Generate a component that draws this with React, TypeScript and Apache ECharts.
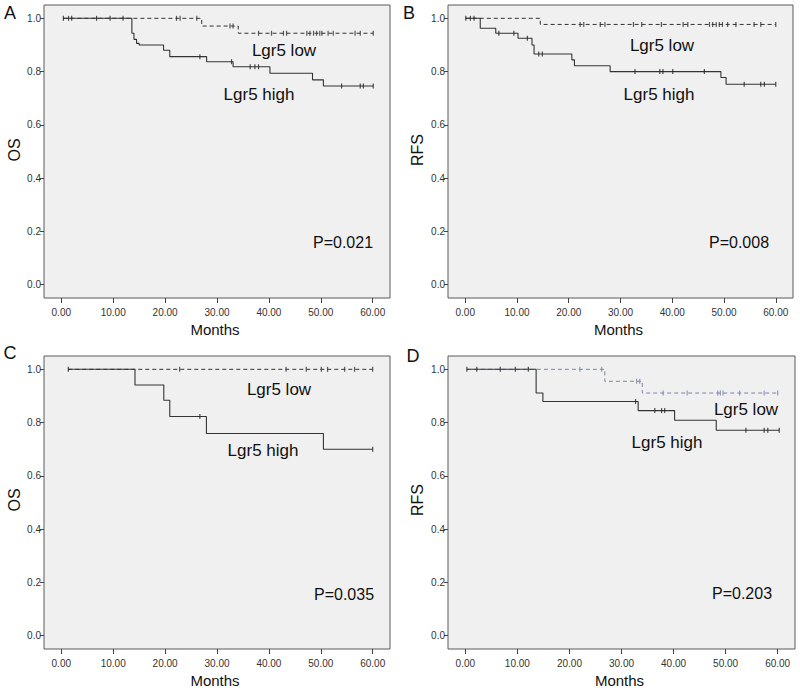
import React, { useEffect, useRef } from "react";
import * as echarts from "echarts";

// ---------- data ----------
const xTicks = [0, 10, 20, 30, 40, 50, 60];
const yTicks = [0, 0.2, 0.4, 0.6, 0.8, 1.0];

// Panel A (OS)
const aHighT = [0.4, 13.6, 14.0, 14.5, 15.0, 19.7, 20.9, 28.0, 33.1, 40.2, 48.4, 50.5, 60.1];
const aHighS = [1, 0.944, 0.921, 0.906, 0.9, 0.88, 0.856, 0.837, 0.818, 0.794, 0.769, 0.746, 0.746];
const aHighCens = [0.4, 1.4, 2.0, 6.8, 9.4, 11.9, 26.7, 32.8, 36.4, 37.3, 38.0, 54.0, 57.6, 58.2, 60.1];
const aLowT = [0.4, 27.05, 34.1, 60.1];
const aLowS = [1, 0.971, 0.944, 0.944];
const aLowCens = [22.2, 22.9, 26.1, 32.5, 33.1, 38.0, 40.5, 42.8, 43.4, 47.3, 47.9, 48.6, 49.2, 49.8, 50.2, 51.4, 52.4, 56.6, 57.6, 60.1];

// Panel B (RFS)
const bHighT = [0.1, 2.9, 5.9, 10.2, 12.9, 13.3, 20.6, 21.1, 28.0, 49.4, 50.4, 60.0];
const bHighS = [1, 0.9625, 0.944, 0.925, 0.9, 0.866, 0.844, 0.822, 0.8, 0.778, 0.7525, 0.7525];
const bHighCens = [0.1, 1.0, 1.7, 6.5, 9.4, 12.0, 14.2, 14.9, 32.8, 37.6, 38.2, 40.1, 46.2, 53.9, 57.1, 57.8, 60.0];
const bLowT = [0.1, 14.5, 60.0];
const bLowS = [1, 0.977, 0.977];
const bLowCens = [22.2, 22.9, 26.1, 27.0, 32.5, 34.1, 37.9, 42.1, 43.0, 47.2, 47.8, 48.5, 49.1, 49.7, 50.7, 52.3, 55.8, 57.1, 60.0];

// Panel C (OS)
const cHighT = [1.35, 14.2, 19.75, 20.9, 27.96, 50.5, 60.0];
const cHighS = [1, 0.941, 0.884, 0.823, 0.759, 0.7, 0.7];
const cHighCens = [1.35, 26.7, 60.0];
const cLowT = [1.35, 60.0];
const cLowS = [1, 1];
const cLowCens = [22.8, 43.3, 47.2, 50.1, 51.3, 54.6, 56.5, 60.0];

// Panel D (RFS)
const dHighT = [0.3, 13.6, 14.9, 33.2, 40.2, 48.2, 60.3];
const dHighS = [1, 0.911, 0.879, 0.845, 0.809, 0.771, 0.771];
const dHighCens = [0.3, 2.2, 6.7, 9.6, 12.1, 32.7, 36.4, 37.7, 38.3, 53.9, 57.4, 58.1, 60.3];
const dLowT = [0.3, 26.8, 34.0, 60.0];
const dLowS = [1, 0.955, 0.911, 0.911];
const dLowCens = [22.0, 26.2, 32.9, 33.5, 38.0, 42.6, 48.5, 49.0, 49.5, 52.7, 57.4, 60.0];

const panelLetters = ["A", "B", "C", "D"];
const yNames = ["OS", "RFS", "OS", "RFS"];
const pValues = ["P=0.021", "P=0.008", "P=0.035", "P=0.203"];
const lowLabel = "Lgr5 low";
const highLabel = "Lgr5 high";
const xName = "Months";

// ---------- layout ----------
const FONT = "'Liberation Sans', Arial, Helvetica, sans-serif";
const grids = [
  { left: 44, top: 5, width: 346, height: 293 },
  { left: 448, top: 5, width: 345, height: 293 },
  { left: 44, top: 356, width: 346, height: 293 },
  { left: 448, top: 356, width: 347, height: 293 },
];
const lowColors = ["#333", "#333", "#333", "#7d86a6"];
// text positions [x,y] per panel
const letterPos = [[10, 13], [409, 13], [10, 353], [413, 356]];
const yNamePos = [[14, 150], [417, 150], [14, 500], [417, 500]];
const lowPos = [[284, 50], [662, 45], [279, 389], [746, 409]];
const highPos = [[259, 94], [659, 94], [263, 450], [667, 442]];
const pPos = [[343, 242], [739, 242], [344, 594], [742, 593]];

function stepAt(ts: number[], ss: number[], t: number) {
  let v = ss[0];
  for (let i = 0; i < ts.length; i++) if (ts[i] <= t) v = ss[i];
  return v;
}

export default function App() {
  const ref = useRef<HTMLDivElement>(null);
  useEffect(() => {
    if (!ref.current) return;
    const chart = echarts.init(ref.current, null, { renderer: "svg" });
    const panels = [
      [aHighT, aHighS, aHighCens, aLowT, aLowS, aLowCens],
      [bHighT, bHighS, bHighCens, bLowT, bLowS, bLowCens],
      [cHighT, cHighS, cHighCens, cLowT, cLowS, cLowCens],
      [dHighT, dHighS, dHighCens, dLowT, dLowS, dLowCens],
    ] as number[][][];

    const series: any[] = [];
    panels.forEach((p, i) => {
      const [hT, hS, hC, lT, lS, lC] = p;
      const lowColor = lowColors[i];
      series.push({
        type: "line", step: "end", xAxisIndex: i, yAxisIndex: i, showSymbol: false,
        data: lT.map((t, k) => [t, lS[k]]),
        lineStyle: { color: lowColor, width: 1, type: [4, 3] }, z: 2,
      });
      series.push({
        type: "line", step: "end", xAxisIndex: i, yAxisIndex: i, showSymbol: false,
        data: hT.map((t, k) => [t, hS[k]]),
        lineStyle: { color: "#333", width: 1.1, type: "solid" }, z: 3,
      });
      series.push({
        type: "scatter", xAxisIndex: i, yAxisIndex: i, symbol: "rect", symbolSize: [1.2, 5],
        data: lC.map((t) => [t, stepAt(lT, lS, t)]),
        itemStyle: { color: lowColor }, z: 4,
      });
      series.push({
        type: "scatter", xAxisIndex: i, yAxisIndex: i, symbol: "rect", symbolSize: [1.2, 5],
        data: hC.map((t) => [t, stepAt(hT, hS, t)]),
        itemStyle: { color: "#222" }, z: 4,
      });
    });

    const graphic: any[] = [];
    for (let i = 0; i < 4; i++) {
      graphic.push({ type: "text", x: letterPos[i][0], y: letterPos[i][1],
        style: { text: panelLetters[i], font: `18px ${FONT}`, fill: "#111", align: "center", verticalAlign: "middle" } });
      graphic.push({ type: "text", x: yNamePos[i][0], y: yNamePos[i][1], rotation: Math.PI / 2,
        style: { text: yNames[i], font: `16px ${FONT}`, fill: "#111", align: "center", verticalAlign: "middle" } });
      graphic.push({ type: "text", x: lowPos[i][0], y: lowPos[i][1], z: 10,
        style: { text: lowLabel, font: `17px ${FONT}`, fill: "#111", align: "center", verticalAlign: "middle" } });
      graphic.push({ type: "text", x: highPos[i][0], y: highPos[i][1], z: 10,
        style: { text: highLabel, font: `17px ${FONT}`, fill: "#111", align: "center", verticalAlign: "middle" } });
      graphic.push({ type: "text", x: pPos[i][0], y: pPos[i][1], z: 10,
        style: { text: pValues[i], font: `16px ${FONT}`, fill: "#111", align: "center", verticalAlign: "middle" } });
      const g = grids[i];
      graphic.push({ type: "text", x: g.left + g.width / 2 - 2, y: g.top + g.height + 31,
        style: { text: xName, font: `15px ${FONT}`, fill: "#111", align: "center", verticalAlign: "middle" } });
    }

    chart.setOption({
      animation: false,
      backgroundColor: "#ffffff",
      grid: grids.map((g) => ({
        ...g, show: true, backgroundColor: "#f0f0f0", borderColor: "#5a5a5a", borderWidth: 1, containLabel: false,
      })),
      xAxis: grids.map((_, i) => ({
        type: "value", gridIndex: i, min: -3.33, max: 63.33,
        axisLine: { show: false, onZero: false },
        splitLine: { show: false },
        axisTick: { show: true, length: 5, customValues: xTicks, lineStyle: { color: "#444" } },
        axisLabel: { customValues: xTicks, formatter: (v: number) => v.toFixed(2), fontSize: 10, color: "#333", margin: 9, fontFamily: FONT },
      })),
      yAxis: grids.map((_, i) => ({
        type: "value", gridIndex: i, min: -0.05, max: 1.05,
        axisLine: { show: false, onZero: false },
        splitLine: { show: false },
        axisTick: { show: true, length: 4, customValues: yTicks, lineStyle: { color: "#444" } },
        axisLabel: { customValues: yTicks, formatter: (v: number) => v.toFixed(1), fontSize: 10, color: "#333", margin: 3, fontFamily: FONT },
      })),
      series,
      graphic,
    });
    return () => chart.dispose();
  }, []);
  return <div ref={ref} style={{ position: "fixed", left: 0, top: 0, width: 800, height: 691 }} />;
}
